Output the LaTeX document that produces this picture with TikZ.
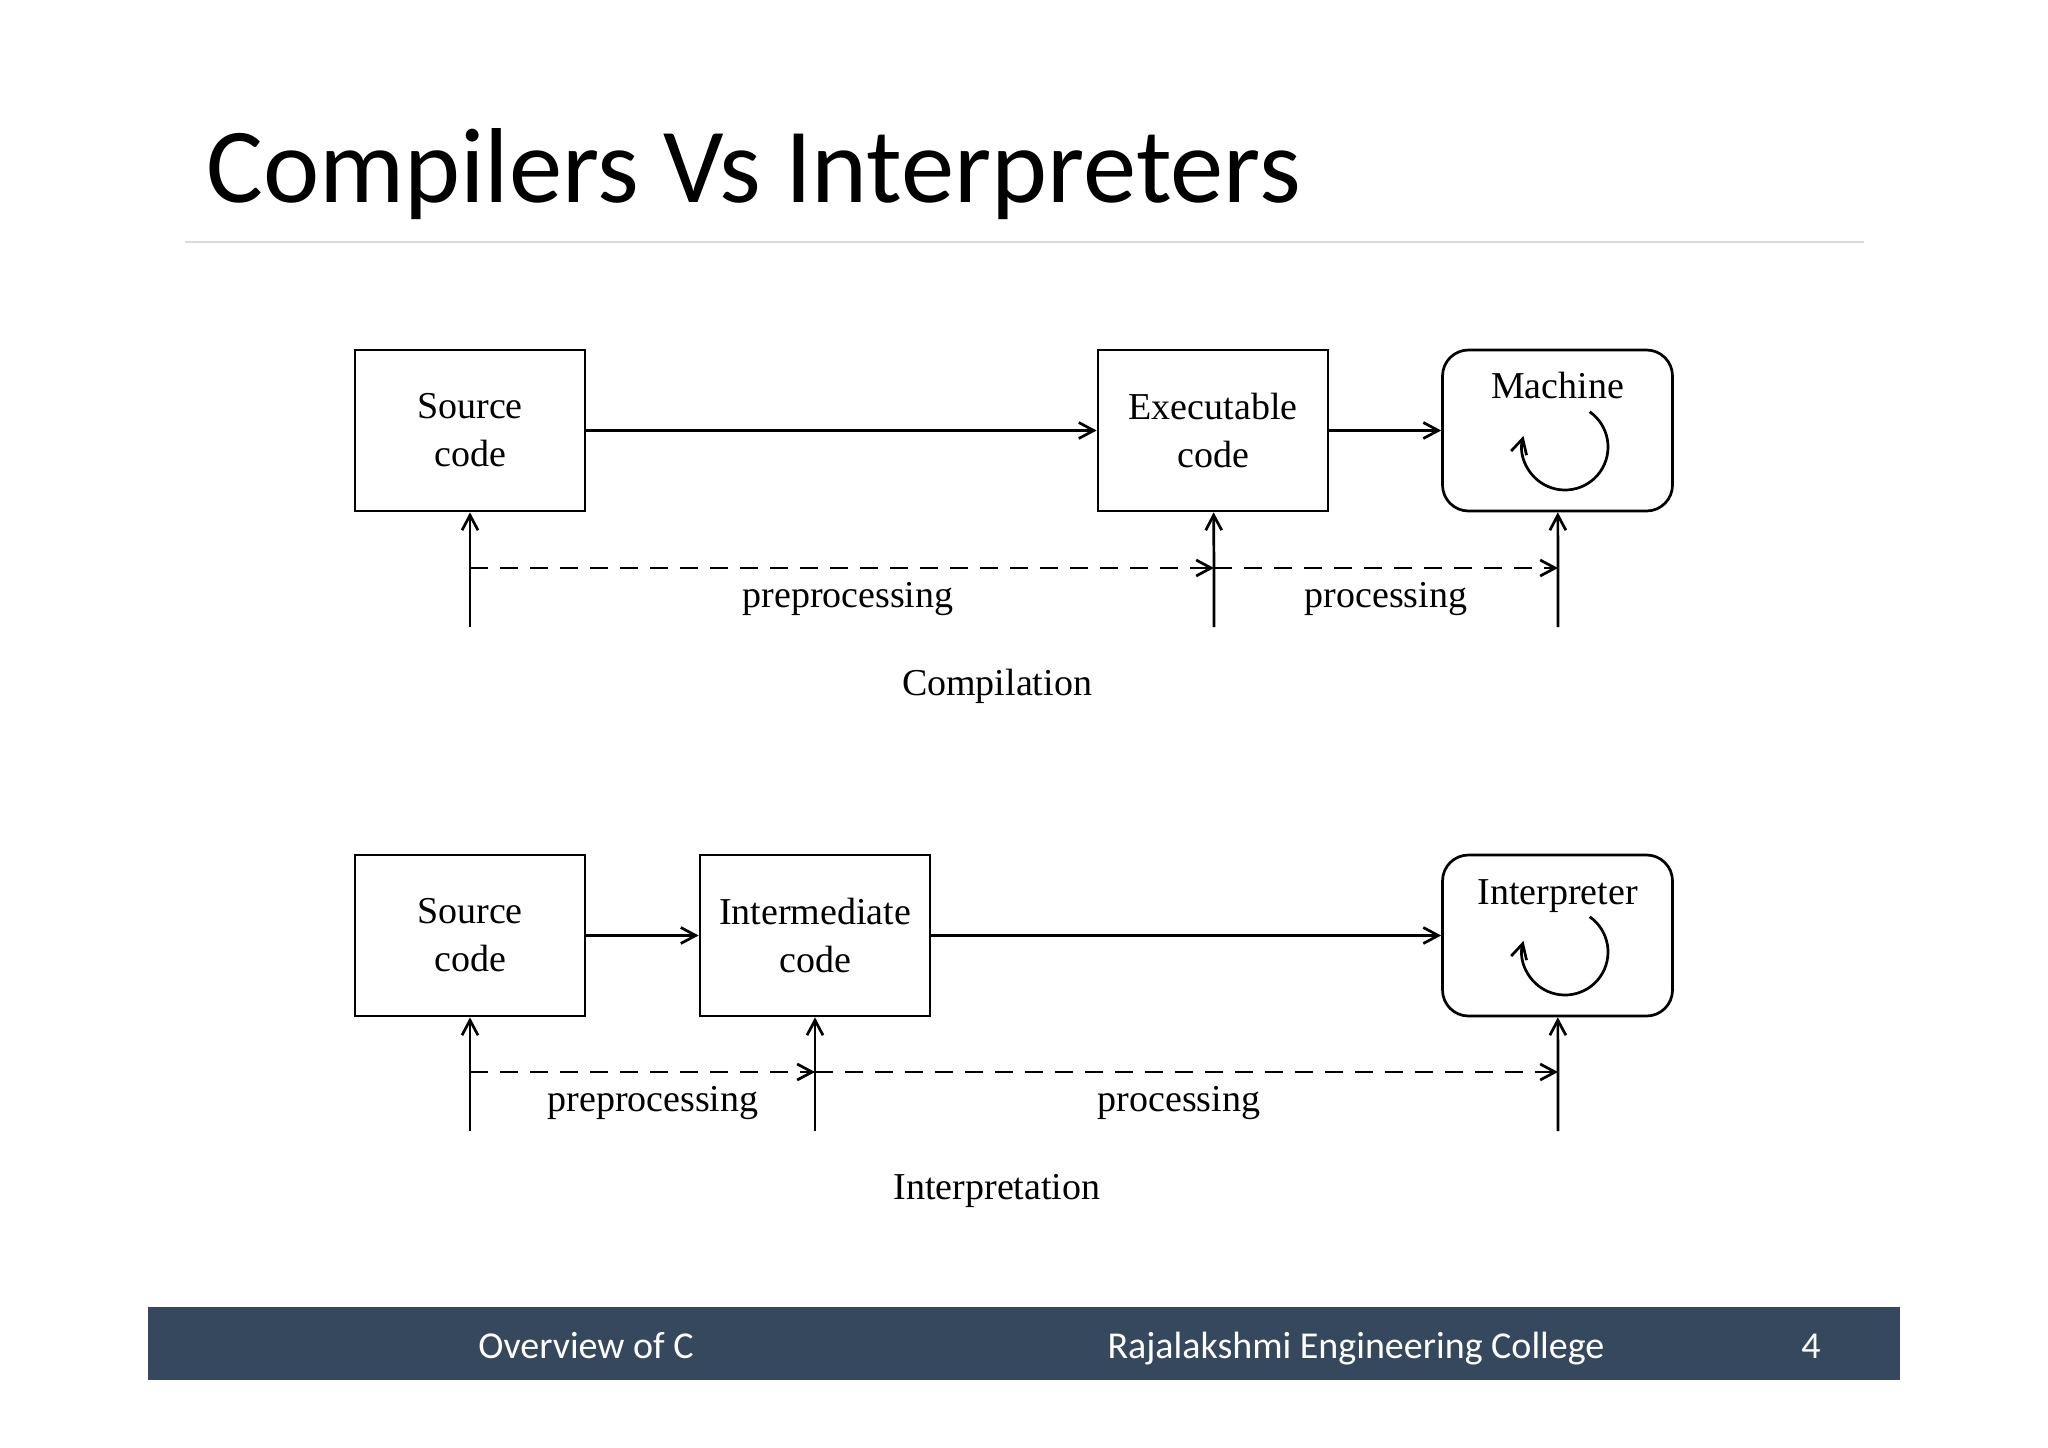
\documentclass[tikz,border=0pt]{standalone}
\usepackage{fontspec}
\setmainfont{Liberation Serif}
\newfontfamily\slidefont{Carlito}
\usetikzlibrary{arrows.meta}
\definecolor{footerblue}{RGB}{53,72,93}
\begin{document}
\begin{tikzpicture}[x=1pt,y=-1pt,
>={Straight Barb[length=15pt,width=16pt]},
line width=2.7pt,
square/.style={
% The box:
rectangle,
draw=black,
minimum width=230pt,
minimum height=161pt,
align=center,
font=\fontsize{38}{48}\selectfont
},
roundbox/.style={square,rounded corners=26pt},
caption/.style={font=\fontsize{38}{46}\selectfont,anchor=base},
footertext/.style={font=\slidefont\fontsize{38}{44}\selectfont,text=white,anchor=base},
dashline/.style={dash pattern=on 18pt off 12pt}
]
\useasboundingbox (0,0) rectangle (2048,1448);
% Title and rule:
\node[anchor=base west,inner sep=0pt,font=\slidefont\fontsize{106.6}{120}\selectfont] (title) at (205,202) {Compilers Vs Interpreters};
\draw[black!15,line width=1.5pt] (185,242) -- (1864,242);
% Compilation:
\node (source) [square] at (470,430.5) {Source\\code};
\node (exec) [square] at (1213,430.5) {Executable\\code};
\node (machine) [roundbox] at (1557.5,430.5) {};
\node (machinetxt) [caption] at (1557.5,398) {Machine};
\coordinate (loopa) at (1565,447);
\draw[->] ([shift={(-55:43)}]loopa) arc[start angle=-55,end angle=195,radius=43];
\path (source) edge[->] (exec) (exec) edge[->] (machine);
\coordinate (sourcein) at (470,627);
\coordinate (execin) at (1214,627);
\coordinate (machinein) at (1558,627);
\coordinate (sourcedash) at (470,568);
\coordinate (execdash) at (1214,568);
\coordinate (machinedash) at (1558,568);
\draw[->] (sourcein) -- (sourcedash) -- (source);
\draw[->] (execin) -- (execdash) -- (exec);
\draw[->] (machinein) -- (machinedash) -- (machine);
\draw[->,dashline] (sourcedash) -- (execdash);
\draw[->,dashline] (execdash) -- (machinedash);
\node (prep) [caption] at (848,607) {preprocessing};
\node (proc) [caption] at (1386,607) {processing};
\node (comp) [caption] at (997,695) {Compilation};
% Interpretation:
\node (source2) [square] at (470,935.5) {Source\\code};
\node (inter) [square] at (815,935.5) {Intermediate\\code};
\node (interp) [roundbox] at (1557.5,935.5) {};
\node (interptxt) [caption] at (1557.5,904) {Interpreter};
\coordinate (loopb) at (1565,952);
\draw[->] ([shift={(-55:43)}]loopb) arc[start angle=-55,end angle=195,radius=43];
\path (source2) edge[->] (inter) (inter) edge[->] (interp);
\coordinate (source2in) at (470,1131);
\coordinate (interin) at (815,1131);
\coordinate (interpin) at (1558,1131);
\coordinate (source2dash) at (470,1072);
\coordinate (interdash) at (815,1072);
\coordinate (interpdash) at (1558,1072);
\draw[->] (source2in) -- (source2dash) -- (source2);
\draw[->] (interin) -- (interdash) -- (inter);
\draw[->] (interpin) -- (interpdash) -- (interp);
\draw[->,dashline] (source2dash) -- (interdash);
\draw[->,dashline] (interdash) -- (interpdash);
\node (prep2) [caption] at (653,1111) {preprocessing};
\node (proc2) [caption] at (1179,1111) {processing};
\node (interpcap) [caption] at (997,1199) {Interpretation};
% Footer:
\fill[footerblue] (148,1307) rectangle (1900,1380);
\node (topic) [footertext] at (586,1358) {Overview of C};
\node (college) [footertext] at (1356,1358) {Rajalakshmi Engineering College};
\node (page) [footertext] at (1811,1358) {4};
\end{tikzpicture}
\end{document}
